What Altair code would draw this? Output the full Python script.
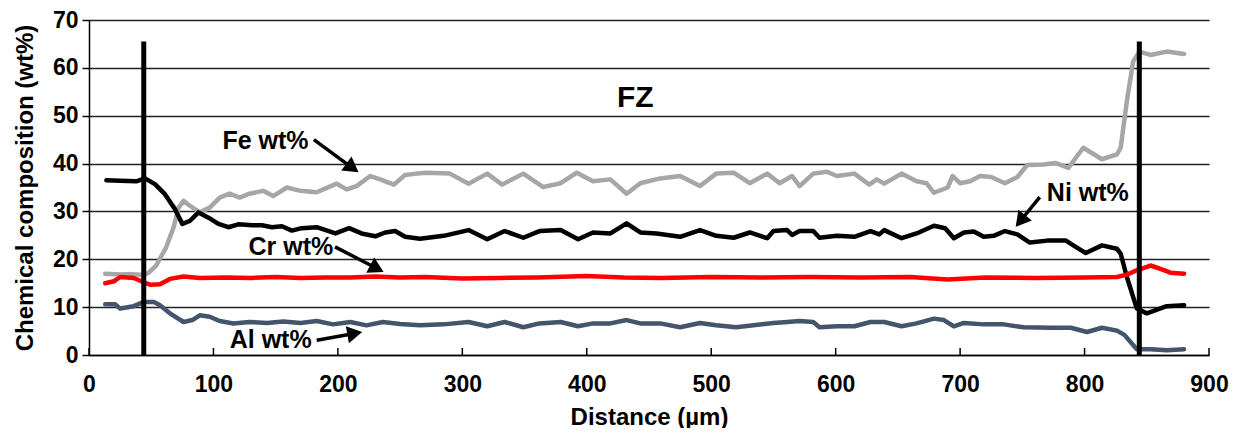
import math
import altair as alt
import pandas as pd

# ---------------- data ----------------
fe_x = [13, 25, 35, 44, 48, 54, 62, 68, 72, 76, 81, 89, 97, 105, 113, 121, 129, 140, 148, 159,
        170, 183, 199, 207, 215, 226, 234, 245, 254, 263, 271, 290, 305, 320, 332, 349, 365, 379,
        392, 405, 419, 432, 443, 459, 475, 491, 504, 518, 531, 545, 555, 565, 571, 582, 593, 601,
        615, 627, 633, 639, 653, 665, 673, 679, 690, 694, 700, 708, 716, 725, 736, 746, 754, 767,
        777, 787, 799, 814, 826, 829, 834, 839, 844, 853, 866, 880]
fe_y = [17.0, 16.8, 16.9, 16.7, 17.2, 18.7, 22.5, 26.7, 30.8, 32.2, 31.2, 29.8, 30.8, 32.9, 33.7,
        32.9, 33.7, 34.3, 33.2, 35.0, 34.3, 34.0, 35.8, 34.6, 35.3, 37.4, 36.7, 35.6, 37.6, 37.9,
        38.1, 37.9, 35.8, 37.9, 35.6, 37.9, 35.1, 35.9, 38.1, 36.3, 36.7, 33.7, 35.9, 36.9, 37.4,
        35.3, 37.9, 38.1, 35.9, 37.9, 35.9, 37.4, 35.3, 37.9, 38.3, 37.4, 37.9, 35.6, 36.7, 35.8,
        37.9, 36.3, 35.9, 33.9, 35.0, 37.4, 35.9, 36.3, 37.4, 37.2, 35.9, 37.2, 39.7, 39.8, 40.1,
        39.1, 43.3, 40.9, 41.9, 43.3, 53.0, 61.3, 63.4, 62.7, 63.4, 62.9]

ni_x = [14, 25, 38, 45, 53, 61, 69, 75, 81, 88, 96, 104, 112, 120, 131, 139, 147, 155, 163, 171,
        183, 198, 209, 219, 230, 238, 246, 254, 266, 285, 305, 320, 334, 349, 362, 379, 393, 405,
        419, 432, 443, 456, 475, 491, 504, 518, 531, 545, 550, 561, 565, 571, 582, 587, 601, 615,
        628, 635, 639, 653, 665, 679, 688, 695, 703, 711, 719, 727, 736, 746, 756, 770, 785, 791,
        801, 814, 826, 829, 834, 842, 850, 866, 880]
ni_y = [36.5, 36.4, 36.3, 36.9, 35.7, 33.6, 30.5, 27.4, 28.0, 29.8, 28.7, 27.4, 26.7, 27.3, 27.1,
        27.1, 26.7, 26.9, 26.0, 26.5, 26.7, 25.4, 26.5, 25.4, 24.8, 25.6, 25.9, 24.7, 24.3, 24.9,
        26.1, 24.2, 25.9, 24.5, 25.9, 26.1, 24.2, 25.6, 25.4, 27.5, 25.6, 25.4, 24.7, 26.1, 24.9,
        24.5, 25.6, 24.4, 25.9, 26.1, 25.1, 25.9, 25.9, 24.5, 24.9, 24.7, 25.9, 25.2, 26.1, 24.4,
        25.4, 27.0, 26.5, 24.4, 25.6, 25.8, 24.7, 24.9, 25.9, 25.2, 23.5, 23.9, 23.9, 22.9, 21.3,
        22.9, 22.2, 21.2, 16.3, 9.7, 8.7, 10.2, 10.4]

cr_x = [13, 20, 25, 36, 44, 49, 57, 65, 76, 89, 110, 130, 150, 170, 190, 210, 230, 250, 270, 300,
        330, 360, 400, 430, 460, 500, 540, 580, 620, 660, 690, 720, 760, 800, 826, 834, 842, 853,
        861, 869, 880]
cr_y = [15.0, 15.4, 16.3, 16.1, 15.2, 14.7, 14.8, 15.9, 16.4, 16.1, 16.2, 16.1, 16.3, 16.1, 16.2,
        16.2, 16.4, 16.2, 16.3, 16.0, 16.1, 16.2, 16.5, 16.2, 16.1, 16.3, 16.2, 16.3, 16.2, 16.3,
        15.8, 16.2, 16.1, 16.2, 16.3, 16.8, 17.7, 18.7, 18.0, 17.2, 17.0]

al_x = [13, 21, 25, 36, 44, 52, 57, 65, 76, 83, 89, 97, 105, 116, 129, 143, 156, 170, 183, 196,
        210, 223, 236, 250, 266, 285, 305, 320, 334, 349, 362, 379, 393, 405, 419, 432, 443, 459,
        475, 491, 504, 520, 534, 550, 561, 571, 582, 587, 601, 615, 628, 639, 653, 665, 679, 687,
        695, 703, 719, 735, 751, 773, 789, 802, 814, 826, 832, 842, 853, 866, 880]
al_y = [10.6, 10.6, 9.7, 10.2, 11.1, 11.1, 10.4, 8.7, 6.9, 7.3, 8.3, 8.0, 7.1, 6.6, 6.9, 6.7, 7.0,
        6.7, 7.1, 6.4, 6.9, 6.2, 6.9, 6.5, 6.2, 6.4, 6.9, 6.0, 6.9, 5.8, 6.6, 6.9, 6.0, 6.6, 6.6,
        7.3, 6.6, 6.6, 5.8, 6.7, 6.2, 5.8, 6.2, 6.7, 6.9, 7.1, 6.9, 5.8, 6.0, 6.0, 6.9, 6.9, 6.0,
        6.6, 7.6, 7.3, 6.0, 6.7, 6.4, 6.4, 5.8, 5.7, 5.7, 4.8, 5.7, 5.1, 4.2, 1.2, 1.2, 1.0, 1.2]

series_names = ["Fe", "Ni", "Cr", "Al"]
series_colors = ["#A6A6A6", "#000000", "#FF0000", "#44546A"]

# zone boundaries (vertical bars) and zone label
boundary_x = [44, 844]
boundary_top = 65.5
zone_label = ["FZ"]
zone_x = [439]
zone_y = [53.6]

# annotations: label text, label centre, arrow tail, arrow tip
ann_text = ["Fe wt%", "Cr wt%", "Al wt%", "Ni wt%"]
ann_x = [141.8, 162.2, 146.0, 802.6]
ann_y = [44.7, 22.5, 3.1, 33.8]
arr_x0 = [180.7, 197.7, 183.0, 764.0]
arr_y0 = [45.0, 22.6, 3.1, 33.0]
arr_x1 = [216.9, 237.1, 219.9, 744.4]
arr_y1 = [38.1, 17.3, 4.8, 26.7]

x_ticks = [0, 100, 200, 300, 400, 500, 600, 700, 800, 900]
y_ticks = [0, 10, 20, 30, 40, 50, 60, 70]

# ---------------- layout ----------------
W, H = 1120, 335
XMAX, YMAX = 900, 70
pxx = W / XMAX
pxy = H / YMAX
FONT = "Liberation Sans"

rows = []
for name, xs_, ys_ in [("Fe", fe_x, fe_y), ("Ni", ni_x, ni_y), ("Cr", cr_x, cr_y), ("Al", al_x, al_y)]:
    for i, (a, b) in enumerate(zip(xs_, ys_)):
        rows.append({"series": name, "x": a, "y": b, "i": i})
lines_df = pd.DataFrame(rows)

xs = alt.Scale(domain=[0, XMAX], nice=False)
ys = alt.Scale(domain=[0, YMAX], nice=False)

x_axis = alt.Axis(values=x_ticks, title="Distance (µm)", grid=False, ticks=False,
                  labelPadding=18, titlePadding=9, format="d", labelFlush=False,
                  titleFontSize=24)
y_axis = alt.Axis(values=y_ticks, title="Chemical composition (wt%)", grid=True, tickSize=7,
                  labelPadding=4, titlePadding=15, format="d", labelFlush=False,
                  titleFontSize=24)

X = alt.X("x:Q", scale=xs, axis=x_axis)
Y = alt.Y("y:Q", scale=ys, axis=y_axis)

lines = alt.Chart(lines_df).mark_line(strokeWidth=4.5, strokeJoin="round", strokeCap="round").encode(
    x=X, y=Y,
    color=alt.Color("series:N", scale=alt.Scale(domain=series_names, range=series_colors), legend=None),
    order="i:Q",
)

# inside tick marks on x axis
tick_df = pd.DataFrame({"x": x_ticks, "y": [0] * len(x_ticks), "y2": [7 / pxy] * len(x_ticks)})
xticks = alt.Chart(tick_df).mark_rule(color="#000000", strokeWidth=1.5).encode(
    x=X, y=Y, y2="y2:Q")

bnd_df = pd.DataFrame({"x": boundary_x, "y": [0] * len(boundary_x), "y2": [boundary_top] * len(boundary_x)})
bounds = alt.Chart(bnd_df).mark_rule(color="#000000", strokeWidth=5).encode(x=X, y=Y, y2="y2:Q")

fz_df = pd.DataFrame({"x": zone_x, "y": zone_y, "t": zone_label})
fz = alt.Chart(fz_df).mark_text(font=FONT, fontSize=30, fontWeight="bold", color="#000000",
                                baseline="middle", align="center").encode(x=X, y=Y, text="t:N")

ann_df = pd.DataFrame({"x": ann_x, "y": ann_y, "t": ann_text})
ann = alt.Chart(ann_df).mark_text(font=FONT, fontSize=25, fontWeight="bold", color="#000000",
                                  baseline="middle", align="center").encode(x=X, y=Y, text="t:N")

# arrows: shaft + triangular head
HEAD = 16.0
shaft_rows, head_rows = [], []
for a0, b0, a1, b1 in zip(arr_x0, arr_y0, arr_x1, arr_y1):
    dxp = (a1 - a0) * pxx
    dyp = -(b1 - b0) * pxy
    L = math.hypot(dxp, dyp)
    ux, uy = dxp / L, dyp / L
    hx = a1 - ux * (HEAD * 0.5) / pxx
    hy = b1 + uy * (HEAD * 0.5) / pxy
    sx = a1 - ux * (HEAD * 0.7) / pxx
    sy = b1 + uy * (HEAD * 0.7) / pxy
    ang = math.degrees(math.atan2(ux, -uy)) % 360
    shaft_rows.append({"x": a0, "y": b0, "x2": sx, "y2": sy})
    head_rows.append({"x": hx, "y": hy, "ang": ang})
shaft_df = pd.DataFrame(shaft_rows)
head_df = pd.DataFrame(head_rows)

shafts = alt.Chart(shaft_df).mark_rule(color="#000000", strokeWidth=3.5).encode(
    x=X, y=Y, x2="x2:Q", y2="y2:Q")
heads = alt.Chart(head_df).mark_point(shape="triangle-up", filled=True, color="#000000",
                                      opacity=1, size=300).encode(
    x=X, y=Y, angle=alt.Angle("ang:Q", scale=None))

chart = alt.layer(lines, xticks, bounds, fz, ann, shafts, heads).properties(
    width=W, height=H,
    autosize=alt.AutoSizeParams(type="none"),
    padding={"left": 81, "top": 12, "right": 20, "bottom": 73},
).configure_view(stroke=None).configure_axis(
    labelFont=FONT, titleFont=FONT, labelFontSize=23, titleFontSize=24,
    labelFontWeight="bold", titleFontWeight="bold", labelColor="#000000", titleColor="#000000",
    domainColor="#000000", domainWidth=1.5, tickColor="#000000", tickWidth=1.5,
    gridColor="#222222", gridWidth=1.5, gridOpacity=1,
)

chart.save("out.html", embed_options={"renderer": "svg", "actions": False})
